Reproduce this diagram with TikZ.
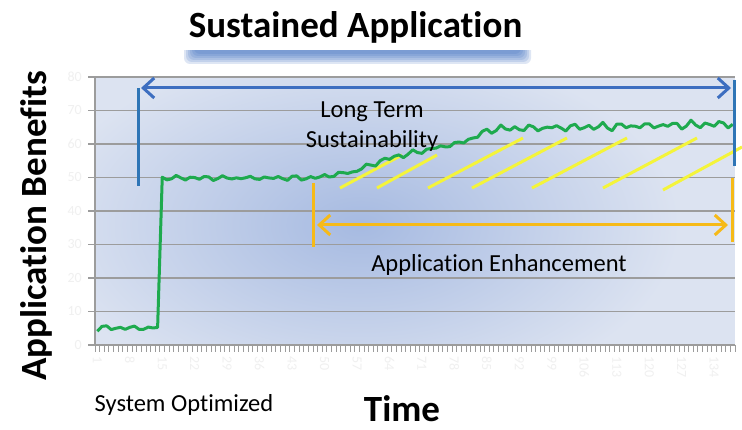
\documentclass[tikz,border=0pt]{standalone}
\usepackage{fontspec}
\setmainfont{Carlito}[Ligatures=NoCommon]
\usetikzlibrary{arrows.meta}

\definecolor{plotbase}{HTML}{DCE3F1}
\definecolor{plotdeep}{HTML}{A6BAE1}
\definecolor{gridgray}{HTML}{9C9C9C}
\definecolor{sustblue}{HTML}{3D6EC0}
\definecolor{barblue}{HTML}{2E75B6}
\definecolor{enhgold}{HTML}{F6BA18}
\definecolor{hatchyellow}{HTML}{F4F43A}
\definecolor{trendgreen}{HTML}{1EAA4E}

\tikzset{
  gridline/.style={draw=gridgray, line width=1.1pt},
  axisline/.style={draw=gridgray, line width=1.3pt},
  xtick/.style={draw=gridgray, line width=0.9pt},
  faintlabel/.style={text=black!6, font=\fontsize{14}{14}\selectfont, inner sep=0pt},
  trendline/.style={draw=trendgreen, line width=3pt, line join=round},
  sustbar/.style={draw=barblue, line width=3pt},
  sustarrow/.style={draw=sustblue, line width=3pt, {Straight Barb[length=11pt,width=20pt]}-{Straight Barb[length=11pt,width=20pt]}},
  enhbar/.style={draw=enhgold, line width=3pt},
  enharrow/.style={draw=enhgold, line width=3pt, {Straight Barb[length=11pt,width=20pt]}-{Straight Barb[length=11pt,width=20pt]}},
  hatch/.style={draw=hatchyellow, line width=3pt},
  bigbold/.style={font=\fontsize{37}{40}\selectfont\bfseries, inner sep=0pt},
  plainlabel/.style={font=\fontsize{24.5}{30}\selectfont, inner sep=0pt, align=center},
  declare function={
    base(\x)=(\x<14.5)?328:((\x<47.5)?178:((\x<56)?178-6*(\x-47.5)/8.5:((\x<64)?172-14*(\x-56)/8:((\x<72)?158-8*(\x-64)/8:((\x<80)?150-8*(\x-72)/8:((\x<86)?142-13*(\x-80)/6:129-5*(\x-86)/52))))));
    amp(\x)=(\x<14.5)?3.5:((\x<47.5)?3:((\x<86)?3.5:5));
    wig(\x)=amp(\x)*(0.5*sin(\x*113.7)+0.3*sin(\x*71.3+40)+0.2*sin(\x*97.1+10));
  }
}

\begin{document}
\begin{tikzpicture}[x=1pt, y=-1pt]
  \useasboundingbox (0,0) rectangle (742,430);
  \fill[white] (0,0) rectangle (742,430);

  % plot area background
  \begin{scope}
    \clip (95,77) rectangle (735,345);
    \fill[plotbase] (95,77) rectangle (735,345);
    \shade[inner color=plotdeep, outer color=plotbase] (360,225) ellipse [x radius=320pt, y radius=180pt];
  \end{scope}

  % horizontal gridlines with left ticks
  \foreach \k in {0,...,7}
    \draw[gridline] (88,{77+33.5*\k}) -- (735,{77+33.5*\k});
  % axes
  \draw[axisline] (95,77) -- (95,345);
  \draw[axisline] (88,345) -- (735,345);
  % category ticks
  \foreach \i in {0,...,138}
    \draw[xtick] ({95+\i*4.638},345) -- ({95+\i*4.638},352);

  % faint value labels
  \foreach \k/\v in {0/80,1/70,2/60,3/50,4/40,5/30,6/20,7/10,8/0}
    \node[faintlabel, anchor=east] (yl\k) at (82,{77+33.5*\k}) {\v};
  \foreach \i in {1,8,...,134}
    \node[faintlabel, anchor=west, rotate=-90] (xl\i) at ({95+(\i-0.5)*4.638},356) {\i};

  % improvement hatching
  \coordinate (h1a) at (340,188); \coordinate (h1b) at (402,155);
  \coordinate (h2a) at (377,188); \coordinate (h2b) at (437,155);
  \coordinate (h3a) at (428,188); \coordinate (h3b) at (523,138);
  \coordinate (h4a) at (472,188); \coordinate (h4b) at (567,138);
  \coordinate (h5a) at (532,188); \coordinate (h5b) at (627,138);
  \coordinate (h6a) at (603,188); \coordinate (h6b) at (697,138);
  \coordinate (h7a) at (663,190); \coordinate (h7b) at (742,147);
  \foreach \h in {1,...,7}
    \draw[hatch] (h\h a) -- (h\h b);

  % benefit curve
  \draw[trendline] plot[domain=1:138, samples=138]
    ({95+(\x-0.5)*4.638}, {base(\x)+wig(\x)});

  % long term sustainability span
  \coordinate (sbl1) at (138,88);  \coordinate (sbl2) at (138,186);
  \coordinate (sbr1) at (734,80);  \coordinate (sbr2) at (734,166);
  \coordinate (sal) at (141,88);   \coordinate (sar) at (731,88);
  \draw[sustbar] (sbl1) -- (sbl2);
  \draw[sustbar] (sbr1) -- (sbr2);
  \draw[sustarrow] (sal) -- (sar);

  % application enhancement span
  \coordinate (ebl1) at (313,183); \coordinate (ebl2) at (313,247);
  \coordinate (ebr1) at (732,178); \coordinate (ebr2) at (732,242);
  \coordinate (eal) at (317,225);  \coordinate (ear) at (728,225);
  \draw[enhbar] (ebl1) -- (ebl2);
  \draw[enhbar] (ebr1) -- (ebr2);
  \draw[enharrow] (eal) -- (ear);

  % labels in the plot
  \node[plainlabel] (ltlabel) at (372,127) {Long Term\\Sustainability};
  \node[plainlabel] (enlabel) at (499,265) {Application Enhancement};

  % title with blue shadow
  \foreach \k in {0,...,5}
    \fill[sustblue, opacity=0.17, rounded corners=6pt]
      ({184+\k*2},40) rectangle ({531-\k*2},{64-\k*2});
  \fill[white] (178,3) rectangle (533,50);
  \node[bigbold] (title) at (355.5,27) {Sustained Application};

  % axis titles
  \node[bigbold, rotate=90] (ytitle) at (36,226) {Application Benefits};
  \node[bigbold] (xtitle) at (402,409) {Time};
  \node[plainlabel] (sysopt) at (184,405) {System Optimized};
\end{tikzpicture}
\end{document}
